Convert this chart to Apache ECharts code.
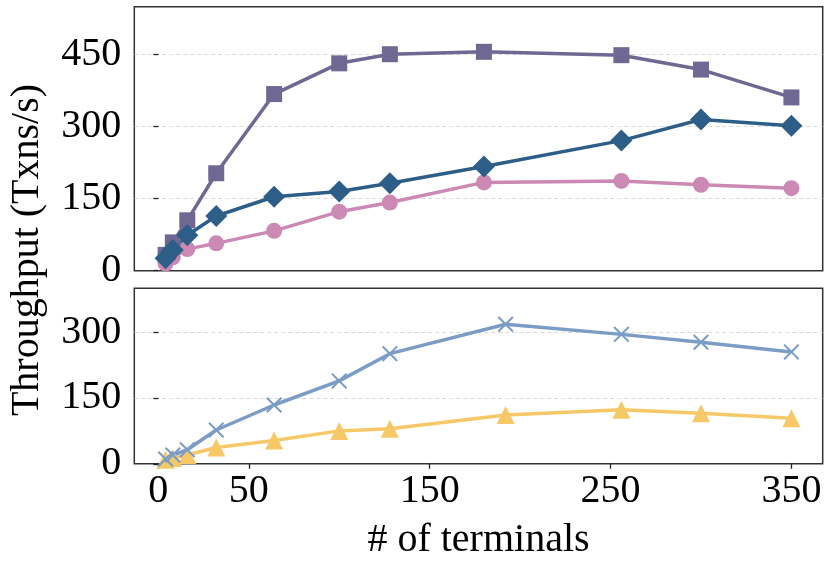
<!DOCTYPE html>
<html>
<head>
<meta charset="utf-8">
<script src="https://cdn.jsdelivr.net/npm/echarts@6/dist/echarts.min.js"></script>
<style>
html,body{margin:0;padding:0;background:#fff;}
#chart{width:830px;height:565px;}
</style>
</head>
<body>
<div id="chart"></div>
<script>
// terminals on the x axis
var topTerminals = [4, 8, 16, 32, 64, 100, 128, 180, 256, 300, 350];
var bottomTerminals = [4, 8, 16, 32, 64, 100, 128, 192, 256, 300, 350];

// top panel throughput
var squareVals = [33, 59, 105, 203, 368, 432, 451, 456, 449, 419, 361];
var diamondVals = [26, 43, 74, 114, 154, 165, 182, 217, 271, 315, 302];
var circleVals = [15, 28, 45, 57, 83, 123, 142, 184, 187, 179, 172];

// bottom panel throughput
var crossVals = [11, 20, 32, 77, 134, 189, 251, 318, 295, 277, 255];
var triangleVals = [9, 13, 20, 37, 53, 75, 80, 111, 123, 115, 104];

var xTicks = [0, 50, 150, 250, 350];
var topYTicks = [0, 150, 300, 450];
var bottomYTicks = [0, 150, 300];

var FONT = "'Liberation Serif','Times New Roman',serif";
var crossPath = 'path://M0,0.9L0.9,0L5,4.1L9.1,0L10,0.9L5.9,5L10,9.1L9.1,10L5,5.9L0.9,10L0,9.1L4.1,5Z';

function pairs(xs, ys){
	var out = [];
	for(var i=0;i<xs.length;i++){
		out.push([xs[i], ys[i]]);
	}
	return out;
}

function line(name, xi, xs, ys, color, symbol, size){
	return {
		name: name,
		type: 'line',
		xAxisIndex: xi,
		yAxisIndex: xi,
		data: pairs(xs, ys),
		symbol: symbol,
		symbolSize: size,
		showAllSymbol: true,
		lineStyle: {color: color, width: 3.5},
		itemStyle: {color: color, opacity: 1},
		emphasis: {disabled: true},
		animation: false
	};
}

function xAxis(gi, labels){
	return {
		type: 'value',
		gridIndex: gi,
		min: -13.3,
		max: 367.3,
		interval: 50,
		axisLine: {show: false},
		splitLine: {show: false},
		axisTick: {show: labels, customValues: xTicks, length: 5, lineStyle: {color: '#222', width: 1.3}},
		axisLabel: {show: labels, customValues: xTicks, margin: 8, fontFamily: FONT, fontSize: 40, color: '#000'},
		name: labels ? '# of terminals' : '',
		nameLocation: 'middle',
		nameGap: 57,
		nameTextStyle: {fontFamily: FONT, fontSize: 40, color: '#000'}
	};
}

function yAxis(gi, max, ticks){
	return {
		type: 'value',
		gridIndex: gi,
		min: 0,
		max: max,
		interval: 150,
		axisLine: {show: false},
		splitLine: {show: true, showMinLine: false, lineStyle: {color: '#d0d0d0', width: 0.8, type: [4, 3]}},
		axisTick: {show: true, customValues: ticks, length: 5, lineStyle: {color: '#222', width: 1.3}},
		axisLabel: {customValues: ticks, margin: 13, fontFamily: FONT, fontSize: 40, color: '#000'}
	};
}

var chart = echarts.init(document.getElementById('chart'), null, {renderer: 'canvas'});

chart.setOption({
	backgroundColor: '#fff',
	animation: false,
	grid: [
		{left: 134.3, top: 6.7, width: 688.4, height: 264, show: true, borderColor: '#333', borderWidth: 1.5, backgroundColor: 'transparent', outerBoundsMode: 'none', containLabel: false},
		{left: 134.3, top: 288.3, width: 688.4, height: 175.5, show: true, borderColor: '#333', borderWidth: 1.5, backgroundColor: 'transparent', outerBoundsMode: 'none', containLabel: false}
	],
	xAxis: [xAxis(0, false), xAxis(1, true)],
	yAxis: [yAxis(0, 550, topYTicks), yAxis(1, 400, bottomYTicks)],
	graphic: [{
		type: 'text',
		x: 27,
		y: 250,
		rotation: Math.PI / 2,
		style: {
			text: 'Throughput (Txns/s)',
			fontFamily: FONT,
			fontSize: 40,
			fill: '#000',
			textAlign: 'center',
			textVerticalAlign: 'middle'
		}
	}],
	series: [
		line('square', 0, topTerminals, squareVals, '#6e6893', 'rect', 16),
		line('circle', 0, topTerminals, circleVals, '#cb89b4', 'circle', 16),
		line('diamond', 0, topTerminals, diamondVals, '#2d5e88', 'diamond', 22),
		line('triangle', 1, bottomTerminals, triangleVals, '#f7c867', 'triangle', 18),
		line('cross', 1, bottomTerminals, crossVals, '#7a9cc5', crossPath, 16)
	]
});
</script>
</body>
</html>
